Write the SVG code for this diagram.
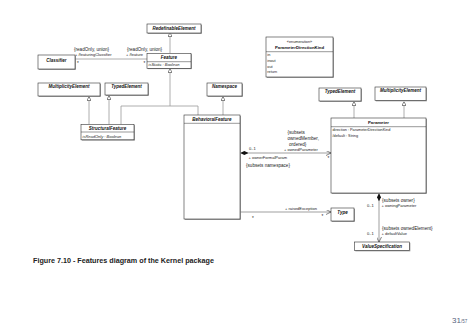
<svg xmlns="http://www.w3.org/2000/svg" width="468" height="330" viewBox="0 0 468 330">
  <style>
    .box { fill: #fff; stroke: #333; stroke-width: 0.6; }
    .shadow { fill: #8a8a8a; }
    .sep { stroke: #333; stroke-width: 0.5; }
    .line { stroke: #9a9a9a; stroke-width: 0.8; fill: none; }
    .aline { stroke: #777; stroke-width: 0.7; fill: none; }
    .name { font-family: "Liberation Sans", Arial, sans-serif; font-size: 4.5px; font-weight: bold; font-style: italic; text-anchor: middle; fill: #111; }
    .cname { font-family: "Liberation Sans", Arial, sans-serif; font-size: 4.3px; font-weight: bold; text-anchor: middle; fill: #111; }
    .attr { font-family: "Liberation Sans", Arial, sans-serif; font-size: 3.8px; fill: #222; }
    .iattr { font-family: "Liberation Sans", Arial, sans-serif; font-size: 4px; font-style: italic; fill: #222; }
    .lbl { font-family: "Liberation Sans", Arial, sans-serif; font-size: 4.6px; fill: #222; }
    .slbl { font-family: "Liberation Sans", Arial, sans-serif; font-size: 4px; fill: #222; }
    .cap { font-family: "Liberation Sans", Arial, sans-serif; font-size: 7.2px; font-weight: bold; fill: #222; }
    .page { font-family: "Liberation Sans", Arial, sans-serif; fill: #56627e; }
  </style>
  <defs>
    <marker id="gen" viewBox="0 0 10 10" refX="10" refY="5" markerWidth="4" markerHeight="4" markerUnits="userSpaceOnUse" orient="auto">
      <path d="M0,0 L10,5 L0,10 Z" fill="#fff" stroke="#333" stroke-width="1.4"/>
    </marker>
    <marker id="open" viewBox="0 0 10 10" refX="10" refY="5" markerWidth="5" markerHeight="5" markerUnits="userSpaceOnUse" orient="auto">
      <path d="M0,0 L10,5 L0,10" fill="none" stroke="#333" stroke-width="1.2"/>
    </marker>
    <marker id="diamond" viewBox="0 0 16 8" refX="0" refY="4" markerWidth="8" markerHeight="4" markerUnits="userSpaceOnUse" orient="auto">
      <path d="M0,4 L8,0 L16,4 L8,8 Z" fill="#111"/>
    </marker>
  </defs>

  <!-- connectors -->
  <g id="connectors">
    <!-- Feature specializes RedefinableElement -->
    <line class="line" x1="170" y1="53.5" x2="170" y2="32.5" marker-end="url(#gen)"/>
    <!-- Classifier / Feature association -->
    <line class="line" x1="75" y1="59" x2="147" y2="59"/>
    <!-- StructuralFeature specializations -->
    <line class="line" x1="89" y1="124.5" x2="89" y2="96.5" marker-end="url(#gen)"/>
    <line class="line" x1="109" y1="124.5" x2="109" y2="95.5" marker-end="url(#gen)"/>
    <!-- Feature generalization tree -->
    <polyline class="line" points="121,124.5 121,106 198,106 198,115"/>
    <line class="line" x1="170" y1="106" x2="170" y2="68.5" marker-end="url(#gen)"/>
    <!-- BehavioralFeature specializes Namespace -->
    <line class="line" x1="223" y1="115" x2="223" y2="96.5" marker-end="url(#gen)"/>
    <!-- Parameter specializations -->
    <line class="line" x1="354" y1="118" x2="354" y2="101.5" marker-end="url(#gen)"/>
    <line class="line" x1="404" y1="118" x2="404" y2="101.5" marker-end="url(#gen)"/>
    <!-- ownedParameter composition -->
    <line class="aline" x1="240.3" y1="153" x2="331" y2="153" marker-start="url(#diamond)" marker-end="url(#open)"/>
    <!-- raisedException -->
    <line class="aline" x1="240.3" y1="212" x2="331" y2="212" marker-end="url(#open)"/>
    <!-- defaultValue composition -->
    <line class="aline" x1="379" y1="193.3" x2="379" y2="242" marker-start="url(#diamond)" marker-end="url(#open)"/>
  </g>

  <!-- association labels -->
  <g id="labels">
    <text class="lbl" x="74" y="51">{readOnly, union}</text>
    <text class="slbl" x="75" y="56">+ /featuringClassifier</text>
    <text class="lbl" x="77" y="64.5">*</text>
    <text class="lbl" x="127" y="51">{readOnly, union}</text>
    <text class="slbl" x="126" y="56">+ /feature</text>
    <text class="lbl" x="143.5" y="64.5">*</text>

    <text class="lbl" x="287.5" y="133.5">{subsets</text>
    <text class="lbl" x="287.5" y="139.5">ownedMember,</text>
    <text class="lbl" x="289" y="145.5">ordered}</text>
    <text class="slbl" x="284" y="151">+ ownedParameter</text>
    <text class="lbl" x="327.5" y="160">*</text>
    <text class="slbl" x="249" y="150">0..1</text>
    <text class="slbl" x="248.5" y="159">+ ownerFormalParam</text>
    <text class="lbl" x="246" y="167">{subsets namespace}</text>

    <text class="slbl" x="285" y="209.5">+ raisedException</text>
    <text class="lbl" x="252" y="220">*</text>
    <text class="lbl" x="321.5" y="218">*</text>

    <text class="lbl" x="382" y="202">{subsets owner}</text>
    <text class="slbl" x="381.5" y="206.5">+ owningParameter</text>
    <text class="slbl" x="367" y="206.5">0..1</text>
    <text class="lbl" x="382" y="229.5">{subsets ownedElement}</text>
    <text class="slbl" x="381.5" y="234.5">+ defaultValue</text>
    <text class="slbl" x="367" y="234.5">0..1</text>
  </g>

  <g id="RedefinableElement">
    <rect class="shadow" x="147.8" y="24.8" width="54" height="9"/>
    <rect class="box" x="147" y="24" width="54" height="9"/>
    <text class="name" x="174" y="30">RedefinableElement</text>
  </g>

  <g id="Classifier">
    <rect class="shadow" x="38.8" y="55.8" width="37" height="14"/>
    <rect class="box" x="38" y="55" width="37" height="14"/>
    <text class="name" x="56.5" y="62">Classifier</text>
  </g>

  <g id="Feature">
    <rect class="shadow" x="147.8" y="54.1" width="44" height="15"/>
    <rect class="box" x="147" y="53.3" width="44" height="15"/>
    <text class="name" x="169" y="58.9">Feature</text>
    <line class="sep" x1="147" y1="61.7" x2="191" y2="61.7"/>
    <text class="iattr" x="148.5" y="66">isStatic : Boolean</text>
  </g>

  <g id="MultiplicityElement1">
    <rect class="shadow" x="38.8" y="83.8" width="62" height="13"/>
    <rect class="box" x="38" y="83" width="62" height="13"/>
    <text class="name" x="69" y="87.7">MultiplicityElement</text>
  </g>

  <g id="TypedElement1">
    <rect class="shadow" x="105.8" y="83.8" width="43" height="12"/>
    <rect class="box" x="105" y="83" width="43" height="12"/>
    <text class="name" x="126.5" y="87.5">TypedElement</text>
  </g>

  <g id="Namespace">
    <rect class="shadow" x="207.8" y="83.8" width="35" height="13"/>
    <rect class="box" x="207" y="83" width="35" height="13"/>
    <text class="name" x="224.5" y="88.3">Namespace</text>
  </g>

  <g id="StructuralFeature">
    <rect class="shadow" x="81.8" y="125.1" width="53" height="15.5"/>
    <rect class="box" x="81" y="124.3" width="53" height="15.5"/>
    <text class="name" x="107.5" y="129.9">StructuralFeature</text>
    <line class="sep" x1="81" y1="132" x2="134" y2="132"/>
    <text class="iattr" x="82.5" y="137.5">isReadOnly : Boolean</text>
  </g>

  <g id="BehavioralFeature">
    <rect class="shadow" x="184.8" y="115.8" width="56" height="104"/>
    <rect class="box" x="184" y="115" width="56" height="104"/>
    <text class="name" x="212" y="121.3">BehavioralFeature</text>
    <line class="sep" x1="184" y1="123.3" x2="240" y2="123.3"/>
  </g>

  <g id="ParameterDirectionKind">
    <rect class="shadow" x="266.8" y="37.8" width="67" height="40"/>
    <rect class="box" x="266" y="37" width="67" height="40"/>
    <text class="attr" x="299.5" y="43" text-anchor="middle">«enumeration»</text>
    <text class="cname" x="299.5" y="49.3" font-size="3.9">ParameterDirectionKind</text>
    <line class="sep" x1="266" y1="51.7" x2="333" y2="51.7"/>
    <text class="attr" x="267.3" y="56.3">in</text>
    <text class="attr" x="267.3" y="62">inout</text>
    <text class="attr" x="267.3" y="67.5">out</text>
    <text class="attr" x="267.3" y="73.3">return</text>
  </g>

  <g id="TypedElement2">
    <rect class="shadow" x="319.8" y="88.8" width="42" height="13"/>
    <rect class="box" x="319" y="88" width="42" height="13"/>
    <text class="name" x="340" y="92.5">TypedElement</text>
  </g>

  <g id="MultiplicityElement2">
    <rect class="shadow" x="375.8" y="87.8" width="51" height="13.5"/>
    <rect class="box" x="375" y="87" width="51" height="13.5"/>
    <text class="name" x="400.5" y="91.7">MultiplicityElement</text>
  </g>

  <g id="Parameter">
    <rect class="shadow" x="331.8" y="118.8" width="95" height="75"/>
    <rect class="box" x="331" y="118" width="95" height="75"/>
    <text class="cname" x="378.5" y="123.7">Parameter</text>
    <line class="sep" x1="331" y1="126.7" x2="426" y2="126.7"/>
    <text class="attr" x="332.5" y="131">direction : ParameterDirectionKind</text>
    <text class="attr" x="332.5" y="137">/default : String</text>
  </g>

  <g id="Type">
    <rect class="shadow" x="331.8" y="208.8" width="23" height="13"/>
    <rect class="box" x="331" y="208" width="23" height="13"/>
    <text class="name" x="342.5" y="214">Type</text>
  </g>

  <g id="ValueSpecification">
    <rect class="shadow" x="355.3" y="242.8" width="55" height="8.5"/>
    <rect class="box" x="354.5" y="242" width="55" height="8.5"/>
    <text class="name" x="382" y="247.8">ValueSpecification</text>
  </g>

  <text class="cap" x="33" y="262.5">Figure 7.10 - Features diagram of the Kernel package</text>

  <text class="page" x="452" y="323" font-size="8">31<tspan font-size="4.5">/57</tspan></text>
</svg>
